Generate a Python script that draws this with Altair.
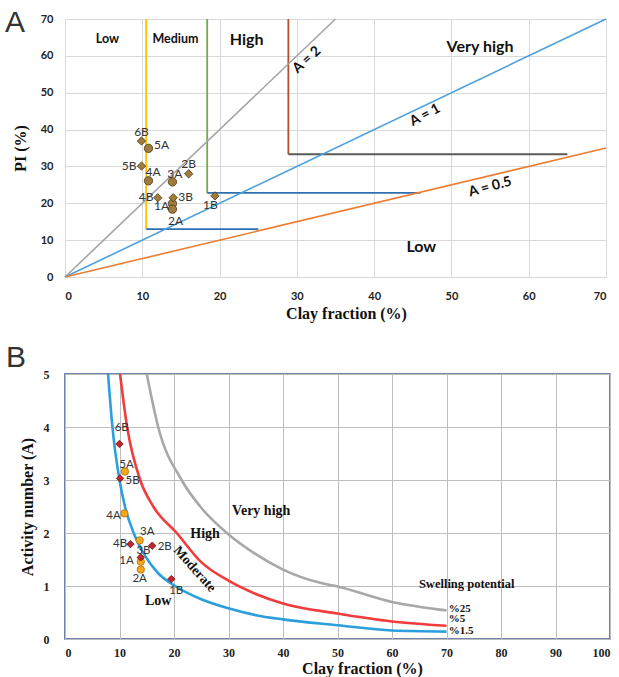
import altair as alt
import pandas as pd

# ---------------- data ----------------
sample_ids = ["1A", "2A", "3A", "4A", "5A", "1B", "2B", "3B", "4B", "5B", "6B"]
sample_group = ["A", "A", "A", "A", "A", "B", "B", "B", "B", "B", "B"]

# Panel A: plasticity index vs clay fraction
clay_a = [13.9, 13.9, 13.9, 10.8, 10.8, 19.4, 16.0, 14.0, 12.0, 9.9, 9.9]
pi_vals = [19.9, 18.4, 25.8, 26.1, 34.9, 22.0, 28.0, 21.5, 21.5, 30.1, 36.9]
lab_x_a = [12.5, 14.3, 14.2, 11.4, 12.5, 18.8, 16.0, 15.6, 10.5, 8.3, 9.9]
lab_y_a = [19.3, 15.1, 28.0, 28.4, 35.8, 19.5, 30.6, 21.8, 21.6, 30.2, 39.4]

# activity lines (endpoints)
act_names = ["A = 2", "A = 1", "A = 0.5"]
act_x_end = [35, 70, 70]
act_y_end = [70, 70, 35]

# class boundaries
bound_names = ["b1", "b2", "b3"]
bound_x = [10.5, 18.4, 28.9]
bound_y = [13.0, 22.8, 33.3]
bound_x_end = [25.0, 46.0, 65.0]

# Panel B: activity vs clay fraction
clay_b = [13.9, 13.9, 13.7, 10.9, 11.0, 19.5, 16.0, 13.9, 12.0, 10.1, 10.0]
act_vals = [1.46, 1.31, 1.86, 2.37, 3.16, 1.13, 1.76, 1.54, 1.79, 3.03, 3.68]
lab_x_b = [11.3, 13.7, 15.1, 8.9, 11.3, 20.4, 18.3, 14.4, 10.1, 12.4, 10.4]
lab_y_b = [1.47, 1.14, 2.01, 2.33, 3.29, 0.91, 1.74, 1.66, 1.80, 2.98, 3.98]

curve_15_x = [7.9, 8.7, 10.0, 11.0, 12.6, 14.5, 17.0, 20.2, 25.0, 30.3, 35.0, 40.0, 50.0, 60.0, 70.0]
curve_15_y = [5.0, 4.0, 3.0, 2.5, 2.0, 1.6, 1.25, 1.0, 0.75, 0.57, 0.45, 0.37, 0.26, 0.16, 0.14]
curve_5_x = [10.1, 11.4, 13.8, 16.2, 20.5, 25.0, 30.0, 35.0, 40.0, 50.0, 60.0, 70.0]
curve_5_y = [5.0, 4.0, 3.0, 2.5, 2.0, 1.45, 1.1, 0.85, 0.67, 0.48, 0.33, 0.25]
curve_25_x = [15.0, 17.1, 21.4, 24.8, 29.7, 35.0, 40.0, 46.8, 50.0, 60.0, 70.0]
curve_25_y = [5.0, 4.0, 3.0, 2.5, 2.0, 1.6, 1.31, 1.06, 0.99, 0.70, 0.54]

# ---------------- tables ----------------
pts_a = pd.DataFrame({"id": sample_ids, "g": sample_group, "x": clay_a, "y": pi_vals,
                      "lx": lab_x_a, "ly": lab_y_a})
pts_b = pd.DataFrame({"id": sample_ids, "g": sample_group, "x": clay_b, "y": act_vals,
                      "lx": lab_x_b, "ly": lab_y_b})

act_rows = []
for n, xe, ye in zip(act_names, act_x_end, act_y_end):
    act_rows.append({"aname": n, "x": 0, "y": 0})
    act_rows.append({"aname": n, "x": xe, "y": ye})
act_df = pd.DataFrame(act_rows)

vert_df = pd.DataFrame({"bname": bound_names, "x": bound_x, "y0": bound_y, "y1": [70, 70, 70]})
horiz_df = pd.DataFrame({"hname": bound_names, "x0": bound_x, "x1": bound_x_end, "y": bound_y})

curve_rows = []
for n, xs, ys in [("1.5", curve_15_x, curve_15_y), ("5", curve_5_x, curve_5_y),
                  ("25", curve_25_x, curve_25_y)]:
    for i, (a, b) in enumerate(zip(xs, ys)):
        curve_rows.append({"cname": n, "x": a, "y": b, "o": i})
curve_df = pd.DataFrame(curve_rows)

# ---------------- panel A ----------------
SANS = "Lato"
SERIF = "Liberation Serif"

ax_xa = alt.Axis(values=list(range(0, 71, 10)), title="Clay fraction (%)", grid=True,
                 gridColor="#d9d9d9", domain=False, ticks=False, labelFont=SANS,
                 labelFontWeight="bold", labelFontSize=11, labelColor="#222",
                 labelPadding=13, titleFont=SERIF, titleFontSize=16, titleFontWeight="bold",
                 titleColor="#111", titlePadding=4, titleX=281)
ax_ya = alt.Axis(values=list(range(0, 71, 10)), title="PI (%)", grid=True,
                 gridColor="#d9d9d9", domain=False, ticks=False, labelFont=SANS,
                 labelFontWeight="bold", labelFontSize=11, labelColor="#222",
                 labelPadding=12, titleFont=SERIF, titleFontSize=16, titleFontWeight="bold",
                 titleColor="#111", titlePadding=12)
sx_a = alt.Scale(domain=[0, 70], nice=False)
sy_a = alt.Scale(domain=[0, 70], nice=False)


def XA(f):
    return alt.X(f, type="quantitative", scale=sx_a, axis=ax_xa)


def YA(f):
    return alt.Y(f, type="quantitative", scale=sy_a, axis=ax_ya)


act_lines = alt.Chart(act_df).mark_line(strokeWidth=1.6).encode(
    x=XA("x"), y=YA("y"),
    color=alt.Color("aname:N", scale=alt.Scale(domain=act_names,
                                               range=["#a5a5a5", "#4ea0dc", "#ed7d31"]),
                    legend=None))

vert = alt.Chart(vert_df).mark_rule(strokeWidth=1.8).encode(
    x=XA("x"), y=YA("y0"), y2="y1",
    stroke=alt.Stroke("bname:N", scale=alt.Scale(domain=bound_names,
                                                 range=["#ffc000", "#70ad47", "#b0502c"]),
                      legend=None))
horiz = alt.Chart(horiz_df).mark_rule(strokeWidth=1.8).encode(
    x=XA("x0"), x2="x1", y=YA("y"),
    stroke=alt.Stroke("hname:N", scale=alt.Scale(domain=bound_names,
                                                 range=["#2e6fb0", "#2e6fb0", "#5a5a5a"]),
                      legend=None))

pts_a_layer = alt.Chart(pts_a).mark_point(filled=True, size=70, stroke="#4a3510",
                                          strokeWidth=0.8, opacity=1).encode(
    x=XA("x"), y=YA("y"),
    shape=alt.Shape("g:N", scale=alt.Scale(domain=["A", "B"], range=["circle", "diamond"]),
                    legend=None),
    fill=alt.value("#a07b3c"))
lab_a_layer = alt.Chart(pts_a).mark_text(font=SANS, fontSize=12, color="#333").encode(
    x=XA("lx"), y=YA("ly"), text="id:N")

reg_small = pd.DataFrame({"t": ["Low", "Medium"], "x": [5.5, 14.3], "y": [64.6, 64.6]})
reg_big = pd.DataFrame({"t": ["High", "Very high", "Low"], "x": [23.5, 53.7, 46.1],
                        "y": [64.3, 62.4, 8.1]})
reg_s = alt.Chart(reg_small).mark_text(font=SANS, fontWeight="bold", fontSize=12.5,
                                       color="#111").encode(x=XA("x"), y=YA("y"), text="t:N")
reg_b = alt.Chart(reg_big).mark_text(font=SANS, fontWeight="bold", fontSize=16,
                                     color="#111").encode(x=XA("x"), y=YA("y"), text="t:N")

rot_layers = []
for t, xx, yy, ang in [("A = 2", 31.3, 58.9, 318), ("A = 1", 46.6, 43.9, 332),
                       ("A = 0.5", 55.0, 24.4, 345)]:
    d = pd.DataFrame({"t": [t], "x": [xx], "y": [yy]})
    rot_layers.append(alt.Chart(d).mark_text(font=SANS, fontWeight="bold", fontSize=14,
                                             angle=ang, color="#111").encode(
        x=XA("x"), y=YA("y"), text="t:N"))

tag_a = alt.Chart(pd.DataFrame({"t": ["A"]})).mark_text(
    font="Liberation Sans", fontSize=30, color="#333", align="left",
    baseline="alphabetic").encode(x=alt.value(-60), y=alt.value(13), text="t:N")

panel_a = alt.layer(vert, horiz, act_lines, pts_a_layer, lab_a_layer, reg_s, reg_b,
                    *rot_layers, tag_a).resolve_scale(
    color="independent", stroke="independent").properties(
    width=541, height=258, view=alt.ViewBackground(stroke="#d9d9d9"))

# ---------------- panel B ----------------
ax_xb = alt.Axis(values=list(range(0, 101, 10)), title="Clay fraction (%)", grid=True,
                 gridColor="#bdbdbd", domain=False, ticks=False, labelFont=SERIF,
                 labelFontWeight="bold", labelFontSize=12, labelColor="#222",
                 labelPadding=8, titleFont=SERIF, titleFontSize=16, titleFontWeight="bold",
                 titleColor="#111", titlePadding=2, titleX=297)
ax_yb = alt.Axis(values=[0, 1, 2, 3, 4, 5], title="Activity number (A)", grid=True,
                 gridColor="#bdbdbd", domain=False, ticks=False, labelFont=SERIF,
                 labelFontWeight="bold", labelFontSize=12, labelColor="#222",
                 labelPadding=16, titleFont=SERIF, titleFontSize=16, titleFontWeight="bold",
                 titleColor="#111", titlePadding=8)
sx_b = alt.Scale(domain=[0, 100], nice=False)
sy_b = alt.Scale(domain=[0, 5], nice=False)


def XB(f):
    return alt.X(f, type="quantitative", scale=sx_b, axis=ax_xb)


def YB(f):
    return alt.Y(f, type="quantitative", scale=sy_b, axis=ax_yb)


curves = alt.Chart(curve_df).mark_line(strokeWidth=2.6, interpolate="monotone").encode(
    x=XB("x"), y=YB("y"), order="o:Q",
    color=alt.Color("cname:N", scale=alt.Scale(domain=["1.5", "5", "25"],
                                               range=["#2b9fdc", "#f23b3b", "#a8a8a8"]),
                    legend=None))

pts_b_layer = alt.Chart(pts_b).mark_point(filled=True, size=55, strokeWidth=0.8,
                                          opacity=1).encode(
    x=XB("x"), y=YB("y"),
    shape=alt.Shape("g:N", scale=alt.Scale(domain=["A", "B"], range=["circle", "diamond"]),
                    legend=None),
    fill=alt.Fill("g:N", scale=alt.Scale(domain=["A", "B"], range=["#f4a81d", "#c0262b"]),
                  legend=None),
    stroke=alt.Stroke("g:N", scale=alt.Scale(domain=["A", "B"], range=["#a8700c", "#7a1111"]),
                      legend=None))
lab_b_layer = alt.Chart(pts_b).mark_text(font=SANS, fontSize=11.5, color="#333").encode(
    x=XB("lx"), y=YB("ly"), text="id:N")

reg_b_df = pd.DataFrame({"t": ["Very high", "High", "Low"], "x": [36.0, 25.7, 17.1],
                         "y": [2.42, 1.98, 0.72]})
reg_b_layer = alt.Chart(reg_b_df).mark_text(font=SERIF, fontWeight="bold", fontSize=14,
                                            color="#111").encode(
    x=XB("x"), y=YB("y"), text="t:N")
mod_layer = alt.Chart(pd.DataFrame({"t": ["Moderate"], "x": [23.8], "y": [1.32]})).mark_text(
    font=SERIF, fontWeight="bold", fontSize=13.5, angle=48, color="#111").encode(
    x=XB("x"), y=YB("y"), text="t:N")
sw_layer = alt.Chart(pd.DataFrame({"t": ["Swelling potential"], "x": [73.7], "y": [1.03]})).mark_text(
    font=SERIF, fontWeight="bold", fontSize=12.5, color="#111").encode(
    x=XB("x"), y=YB("y"), text="t:N")
pct_layer = alt.Chart(pd.DataFrame({"t": ["%25", "%5", "%1.5"], "x": [70.4, 70.4, 70.4],
                                    "y": [0.57, 0.37, 0.16]})).mark_text(
    font=SERIF, fontWeight="bold", fontSize=11, align="left", color="#111").encode(
    x=XB("x"), y=YB("y"), text="t:N")

tag_b = alt.Chart(pd.DataFrame({"t": ["B"]})).mark_text(
    font="Liberation Sans", fontSize=30, color="#333", align="left",
    baseline="alphabetic").encode(x=alt.value(-59), y=alt.value(-7), text="t:N")

panel_b = alt.layer(curves, pts_b_layer, lab_b_layer, reg_b_layer, mod_layer, sw_layer,
                    pct_layer, tag_b).resolve_scale(
    color="independent", stroke="independent", fill="independent").properties(
    width=545, height=265, view=alt.ViewBackground(stroke="#3d5c90", strokeWidth=1.5))

chart = alt.vconcat(panel_a, panel_b, spacing=20).resolve_scale(
    color="independent", stroke="independent", fill="independent",
    shape="independent").properties(
    padding={"left": 4, "top": 7, "right": 2, "bottom": 2},
    background="white")

chart.save("out.html", embed_options={"renderer": "svg", "actions": False})
